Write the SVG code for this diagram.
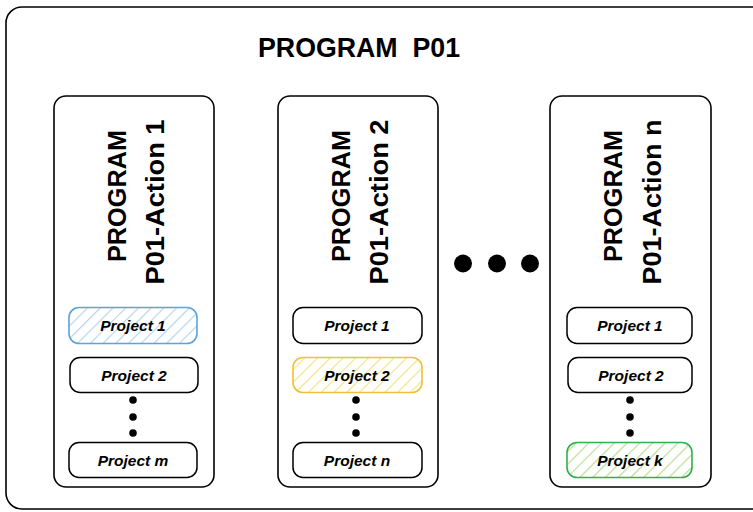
<svg xmlns="http://www.w3.org/2000/svg" width="753" height="512" viewBox="0 0 753 512">
<style>
.frame{fill:#fff;stroke:#000;stroke-width:1.6}
.act{fill:#fff;stroke:#000;stroke-width:1.6}
.prj{fill:#fff;stroke:#000;stroke-width:1.5}
.pb{fill:url(#hb);stroke:#5aa5da;stroke-width:1.6}
.py{fill:url(#hy);stroke:#f2c037;stroke-width:1.6}
.pg{fill:url(#hg);stroke:#2fb24c;stroke-width:1.6}
.title{font-family:"Liberation Sans",Arial,sans-serif;font-weight:bold;font-size:27px;fill:#000;white-space:pre}
.vt{font-family:"Liberation Sans",Arial,sans-serif;font-weight:bold;font-size:26px;fill:#000}
.pt{font-family:"Liberation Sans",Arial,sans-serif;font-weight:bold;font-style:italic;font-size:15.5px;fill:#000}
.dot{fill:#000}
</style>
<defs>
<pattern id="hb" patternUnits="userSpaceOnUse" width="9" height="9" patternTransform="rotate(45)">
<rect width="9" height="9" fill="#fff"/>
<line x1="0" y1="0" x2="0" y2="9" stroke="#b7d6ee" stroke-width="2.4"/>
</pattern>
<pattern id="hy" patternUnits="userSpaceOnUse" width="9" height="9" patternTransform="rotate(45)">
<rect width="9" height="9" fill="#fff"/>
<line x1="0" y1="0" x2="0" y2="9" stroke="#f3e48a" stroke-width="2.4"/>
</pattern>
<pattern id="hg" patternUnits="userSpaceOnUse" width="9" height="9" patternTransform="rotate(45)">
<rect width="9" height="9" fill="#fff"/>
<line x1="0" y1="0" x2="0" y2="9" stroke="#b9df95" stroke-width="2.4"/>
</pattern>
</defs>
<rect width="753" height="512" fill="#fff"/>
<g id="program">
<rect class="frame" x="6" y="7" width="770" height="502" rx="16"/>
<text class="title" x="359" y="57" text-anchor="middle" textLength="202" lengthAdjust="spacingAndGlyphs" xml:space="preserve">PROGRAM  P01</text>
</g>
<g id="action1">
<rect class="act" x="54" y="96" width="160" height="391" rx="12"/>
<text class="vt" transform="translate(126,196) rotate(-90)" text-anchor="middle" textLength="132" lengthAdjust="spacingAndGlyphs">PROGRAM</text>
<text class="vt" transform="translate(164,202) rotate(-90)" text-anchor="middle" textLength="165" lengthAdjust="spacingAndGlyphs">P01-Action 1</text>
</g>
<g id="action2">
<rect class="act" x="278" y="96" width="160" height="391" rx="12"/>
<text class="vt" transform="translate(350,196) rotate(-90)" text-anchor="middle" textLength="132" lengthAdjust="spacingAndGlyphs">PROGRAM</text>
<text class="vt" transform="translate(388,202) rotate(-90)" text-anchor="middle" textLength="165" lengthAdjust="spacingAndGlyphs">P01-Action 2</text>
</g>
<g id="actionn">
<rect class="act" x="550" y="96" width="161" height="391" rx="12"/>
<text class="vt" transform="translate(622,196) rotate(-90)" text-anchor="middle" textLength="132" lengthAdjust="spacingAndGlyphs">PROGRAM</text>
<text class="vt" transform="translate(661,202) rotate(-90)" text-anchor="middle" textLength="165" lengthAdjust="spacingAndGlyphs">P01-Action n</text>
</g>
<g id="ellipsis">
<circle class="dot" cx="463" cy="263.5" r="9"/>
<circle class="dot" cx="497" cy="263.5" r="9"/>
<circle class="dot" cx="530" cy="263.5" r="9"/>
</g>
<g id="a1-project1">
<rect class="pb" x="69" y="307.5" width="128" height="36" rx="10"/>
<text class="pt" x="133" y="331" text-anchor="middle">Project 1</text>
</g>
<g id="a1-project2">
<rect class="prj" x="70" y="357.5" width="128" height="35" rx="10"/>
<text class="pt" x="134" y="381" text-anchor="middle">Project 2</text>
</g>
<g id="a1-dots">
<circle class="dot" cx="133" cy="400" r="3.8"/>
<circle class="dot" cx="133" cy="417" r="3.8"/>
<circle class="dot" cx="133" cy="433" r="3.8"/>
</g>
<g id="a1-projectm">
<rect class="prj" x="69" y="442.5" width="128" height="35" rx="10"/>
<text class="pt" x="133" y="466" text-anchor="middle">Project m</text>
</g>
<g id="a2-project1">
<rect class="prj" x="293" y="307.5" width="129" height="36" rx="10"/>
<text class="pt" x="357" y="331" text-anchor="middle">Project 1</text>
</g>
<g id="a2-project2">
<rect class="py" x="293" y="357.5" width="129" height="35" rx="10"/>
<text class="pt" x="357" y="381" text-anchor="middle">Project 2</text>
</g>
<g id="a2-dots">
<circle class="dot" cx="356" cy="400" r="3.8"/>
<circle class="dot" cx="356" cy="417" r="3.8"/>
<circle class="dot" cx="356" cy="433" r="3.8"/>
</g>
<g id="a2-projectn">
<rect class="prj" x="293" y="442.5" width="129" height="35" rx="10"/>
<text class="pt" x="357" y="466" text-anchor="middle">Project n</text>
</g>
<g id="an-project1">
<rect class="prj" x="567" y="307.5" width="125" height="36" rx="10"/>
<text class="pt" x="630" y="331" text-anchor="middle">Project 1</text>
</g>
<g id="an-project2">
<rect class="prj" x="568" y="357.5" width="124" height="35" rx="10"/>
<text class="pt" x="631" y="381" text-anchor="middle">Project 2</text>
</g>
<g id="an-dots">
<circle class="dot" cx="630" cy="400" r="3.8"/>
<circle class="dot" cx="630" cy="417" r="3.8"/>
<circle class="dot" cx="630" cy="433" r="3.8"/>
</g>
<g id="an-projectk">
<rect class="pg" x="567" y="442.5" width="125" height="35" rx="10"/>
<text class="pt" x="630" y="466" text-anchor="middle">Project k</text>
</g>
<g id="connectors"></g>
</svg>
